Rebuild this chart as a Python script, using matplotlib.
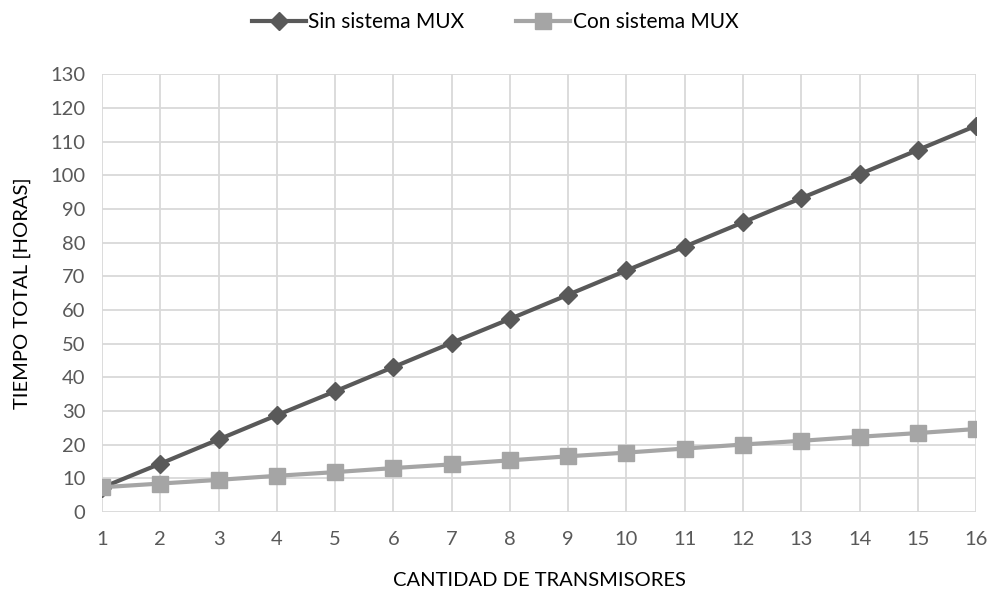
import numpy as np
import matplotlib.pyplot as plt

plt.rcParams['font.family'] = ['Lato', 'DejaVu Sans']

transmisores = list(range(1, 17))
sin_mux = [7.2, 14.3, 21.5, 28.7, 35.8, 43.0, 50.2, 57.3, 64.5, 71.7, 78.8, 86.0, 93.2, 100.3, 107.5, 114.7]
con_mux = [7.3, 8.4, 9.5, 10.7, 11.8, 13.0, 14.1, 15.3, 16.5, 17.6, 18.8, 20.0, 21.1, 22.3, 23.4, 24.6]

fig = plt.figure(figsize=(9.9, 5.89), dpi=100)
ax = fig.add_axes([0.103, 0.131, 0.883, 0.743])

ax.plot(transmisores, sin_mux, color='#595959', lw=3, marker='D', ms=9, label='Sin sistema MUX', zorder=3)
ax.plot(transmisores, con_mux, color='#a5a5a5', lw=3, marker='s', ms=11, label='Con sistema MUX', zorder=4)

ax.set_xlim(1, 16)
ax.set_ylim(0, 130)
ax.set_xticks(transmisores)
ax.set_yticks(np.arange(0, 131, 10))
ax.grid(True, color='#d9d9d9', lw=1.3)
ax.set_axisbelow(True)
for s in ax.spines.values():
    s.set_visible(False)
ax.tick_params(axis='x', length=0, labelsize=14.5, colors='#595959', pad=14)
ax.tick_params(axis='y', length=0, labelsize=14.5, colors='#595959', pad=12)

ax.set_xlabel('CANTIDAD DE TRANSMISORES', fontsize=14.5, color='#000000', labelpad=17)
ax.set_ylabel('TIEMPO TOTAL [HORAS]', fontsize=14.5, color='#000000', labelpad=14)

fig.legend(*ax.get_legend_handles_labels(), loc='center', bbox_to_anchor=(0.5, 0.963), ncol=2,
           frameon=False, fontsize=15, handlelength=2.6, columnspacing=2.5, handletextpad=0.1)

fig.savefig('out.png', dpi=100)
